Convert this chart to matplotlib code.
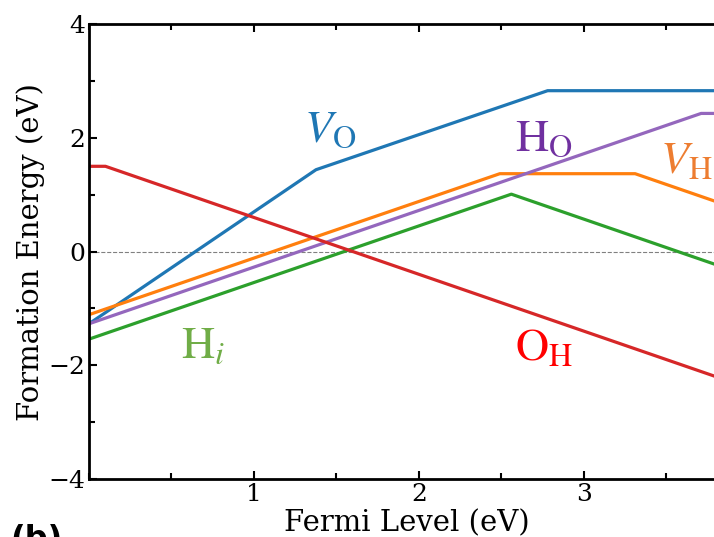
import numpy as np
import matplotlib
matplotlib.use("Agg")
import matplotlib.pyplot as plt
from matplotlib.ticker import MultipleLocator

plt.rcParams['font.family'] = 'DejaVu Serif'
plt.rcParams['mathtext.fontset'] = 'stix'

# piecewise formation energies vs Fermi level
x_vo = [0.0, 1.376, 2.78, 3.85]
y_vo = [-1.27, 1.44, 2.83, 2.83]

x_vh = [0.0, 2.49, 3.31, 3.85]
y_vh = [-1.11, 1.37, 1.37, 0.83]

x_ho = [0.0, 3.71, 3.85]
y_ho = [-1.27, 2.43, 2.43]

x_hi = [0.0, 2.56, 3.85]
y_hi = [-1.54, 1.01, -0.28]

x_oh = [0.0, 0.10, 3.85]
y_oh = [1.50, 1.50, -2.25]

labels = [r'$V_\mathrm{O}$', r'$\mathrm{H}_\mathrm{O}$', r'$V_\mathrm{H}$',
          r'$\mathrm{H}_i$', r'$\mathrm{O}_\mathrm{H}$']
label_x = [1.46, 2.76, 3.62, 0.69, 2.76]
label_y = [2.15, 2.0, 1.6, -1.65, -1.68]
label_colors = ['#1f77b4', '#7030a0', '#ed7d31', '#70ad47', '#ff0000']

fig = plt.figure(figsize=(7.14, 5.37), dpi=100)
ax = fig.add_axes([0.1246, 0.108, 0.8897, 0.847])

lw = 2.3
ax.axhline(0, color='gray', lw=0.8, ls='--', zorder=1)
ax.plot(x_vo, y_vo, color='#1f77b4', lw=lw)
ax.plot(x_vh, y_vh, color='#ff7f0e', lw=lw)
ax.plot(x_ho, y_ho, color='#9467bd', lw=lw)
ax.plot(x_hi, y_hi, color='#2ca02c', lw=lw)
ax.plot(x_oh, y_oh, color='#d62728', lw=lw)

for t, lx, ly, c in zip(labels, label_x, label_y, label_colors):
    ax.text(lx, ly, t, color=c, fontsize=33, ha='center', va='center')

ax.set_xlim(0, 3.85)
ax.set_ylim(-4, 4)
ax.set_xticks([1, 2, 3])
ax.xaxis.set_minor_locator(MultipleLocator(0.5))
ax.set_yticks([-4, -2, 0, 2, 4])
ax.yaxis.set_minor_locator(MultipleLocator(1))
ax.tick_params(which='both', direction='in', top=True, right=True,
               width=1.5, labelsize=18, pad=3)
ax.tick_params(which='major', length=6)
ax.tick_params(which='minor', length=4)
for s in ax.spines.values():
    s.set_linewidth(2.0)

ax.set_xlabel('Fermi Level (eV)', fontsize=21, labelpad=2.5)
ax.set_ylabel('Formation Energy (eV)', fontsize=21, labelpad=2)

fig.text(0.015, 0.025, '(b)', fontsize=23, fontweight='bold',
         family='DejaVu Sans', ha='left', va='top')

fig.savefig('out.png', dpi=100)
